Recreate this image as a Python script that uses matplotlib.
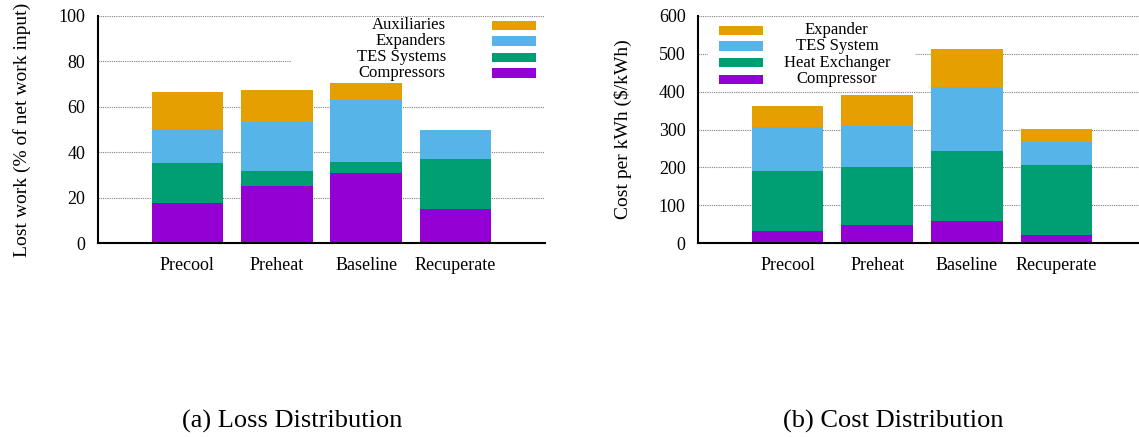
import matplotlib.pyplot as plt
from matplotlib.patches import Rectangle

plt.rcParams['font.family'] = ['Liberation Serif', 'DejaVu Serif']

configs = ['Precool', 'Preheat', 'Baseline', 'Recuperate']

# (a) lost work, % of net work input
loss_compressors = [17.5, 24.9, 31.0, 15.1]
loss_tes = [17.9, 6.6, 4.9, 21.7]
loss_expanders = [14.7, 21.6, 26.9, 12.8]
loss_auxiliaries = [16.2, 14.1, 7.5, 0.4]

# (b) cost per kWh, $/kWh
cost_compressor = [31, 47, 57, 20]
cost_heat_exchanger = [158, 155, 187, 185]
cost_tes = [117, 106, 168, 61]
cost_expander = [55, 82, 100, 35]

loss_labels = ['Compressors', 'TES Systems', 'Expanders', 'Auxiliaries']
cost_labels = ['Compressor', 'Heat Exchanger', 'TES System', 'Expander']
colors = ['#9400D3', '#009E73', '#56B4E9', '#E69F00']

W, H = 1139, 437
fig = plt.figure(figsize=(W / 100, H / 100), dpi=100)


def px_axes(left, right, top, bottom):
    return fig.add_axes([left / W, 1 - bottom / H, (right - left) / W, (bottom - top) / H])


def stacked(ax, series, ymax, ystep):
    x = range(1, len(configs) + 1)
    base = [0] * len(configs)
    for vals, c in zip(series, colors):
        ax.bar(x, vals, width=0.8, bottom=base, color=c, zorder=3)
        base = [b + v for b, v in zip(base, vals)]
    ax.set_xlim(0, 5)
    ax.set_ylim(0, ymax)
    ax.set_yticks(range(0, ymax + 1, ystep))
    ax.set_xticks(list(x))
    ax.set_xticklabels(configs)
    ax.tick_params(length=0, labelsize=13)
    ax.tick_params(axis='y', pad=9)
    ax.tick_params(axis='x', pad=10)
    ax.yaxis.grid(True, linestyle=(0, (1, 1)), color='#808080', linewidth=0.8, zorder=0)
    ax.set_axisbelow(True)
    for s in ('top', 'right'):
        ax.spines[s].set_visible(False)
    for s in ('left', 'bottom'):
        ax.spines[s].set_linewidth(1.5)
        ax.spines[s].set_zorder(4)


def manual_key(ax, box, rows, labels, sx, tx, ha):
    # gnuplot-style key: opaque white box, no frame
    ax.add_patch(Rectangle((box[0], box[1]), box[2] - box[0], box[3] - box[1],
                           transform=ax.transAxes, facecolor='white',
                           edgecolor='none', zorder=2, clip_on=False))
    for y, lab, c in zip(rows, labels, colors[::-1]):
        ax.add_patch(Rectangle((sx[0], y - 0.02), sx[1] - sx[0], 0.04,
                               transform=ax.transAxes, facecolor=c,
                               edgecolor='none', zorder=5, clip_on=False))
        ax.text(tx, y, lab, transform=ax.transAxes, ha=ha, va='center',
                fontsize=12, zorder=5)


ax1 = px_axes(98, 545, 16, 243)
stacked(ax1, [loss_compressors, loss_tes, loss_expanders, loss_auxiliaries], 100, 20)
ax1.set_ylabel('Lost work (% of net work input)', fontsize=14, labelpad=20)
manual_key(ax1, (0.432, 0.705, 1.0, 0.99), [0.960, 0.890, 0.819, 0.749],
           loss_labels[::-1], (0.881, 0.980), 0.778, 'right')

ax2 = px_axes(698, 1146, 16, 243)
stacked(ax2, [cost_compressor, cost_heat_exchanger, cost_tes, cost_expander], 600, 100)
ax2.set_ylabel('Cost per kWh ($/kWh)', fontsize=14, labelpad=19)
manual_key(ax2, (0.022, 0.685, 0.484, 0.985), [0.938, 0.868, 0.794, 0.722],
           cost_labels[::-1], (0.047, 0.145), 0.310, 'center')

fig.text(292 / W, 1 - 421 / H, '(a) Loss Distribution', ha='center', va='center', fontsize=19)
fig.text(893 / W, 1 - 421 / H, '(b) Cost Distribution', ha='center', va='center', fontsize=19)

fig.savefig('out.png', dpi=100)
